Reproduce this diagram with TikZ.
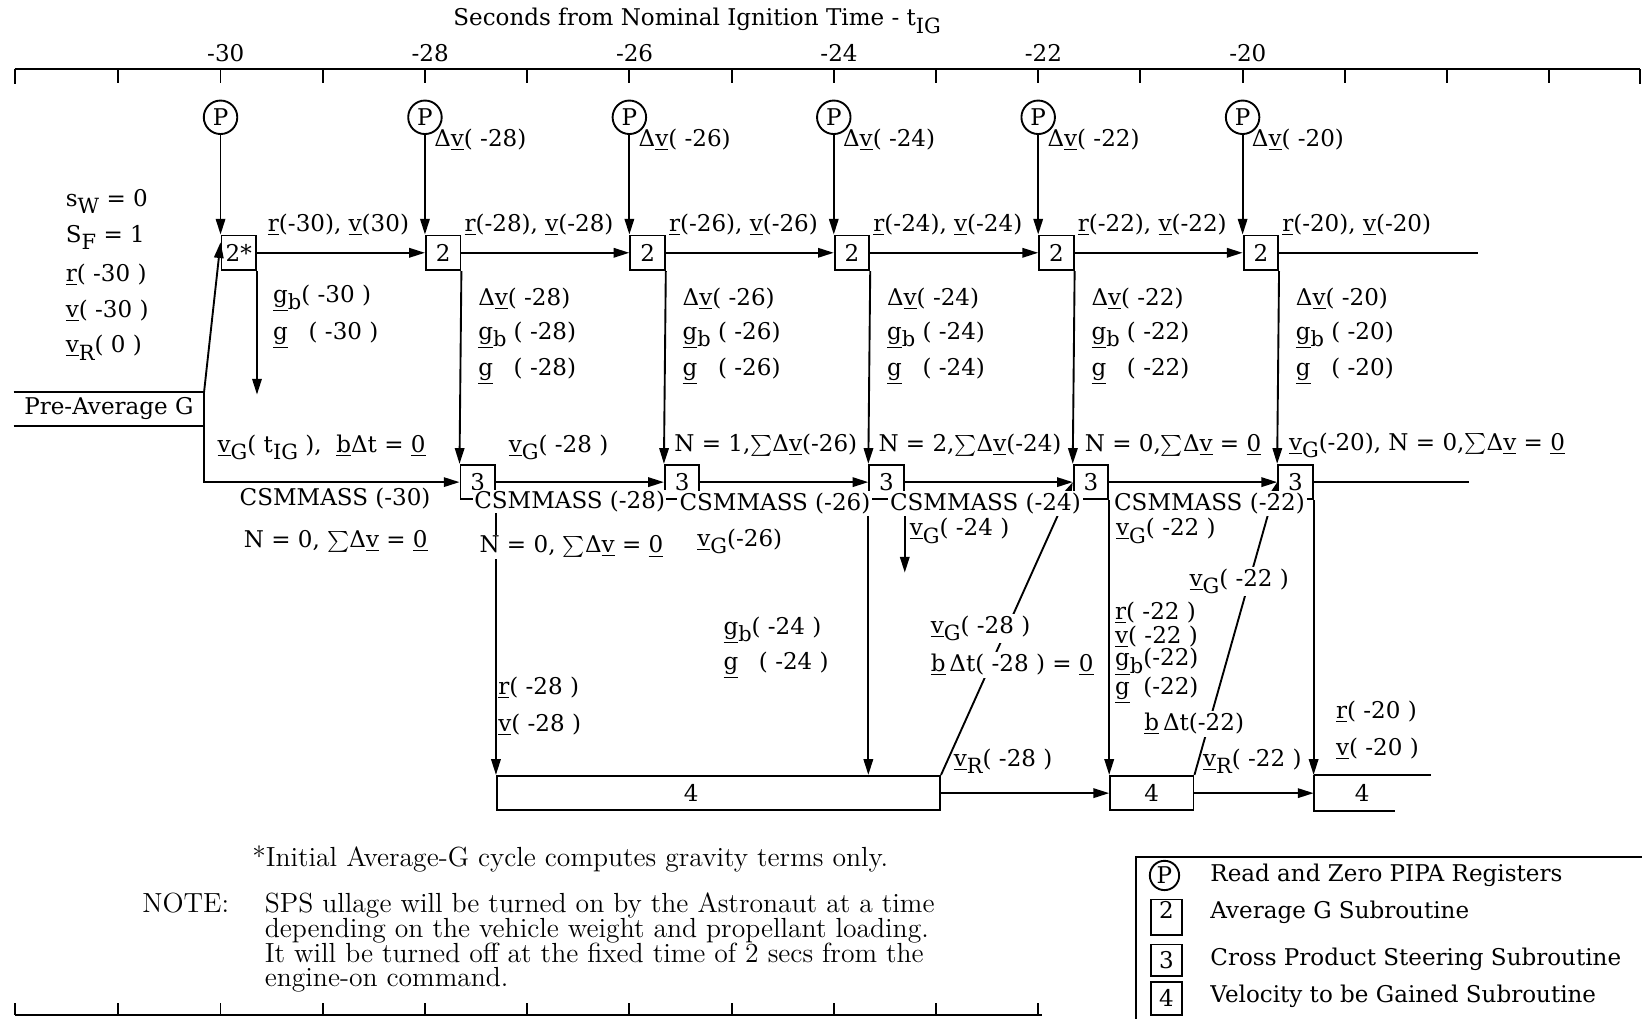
\documentclass[tikz,border=0pt]{standalone}
\usepackage{fontspec}
\setmainfont{DejaVu Serif}
\newfontfamily\notefont{Latin Modern Roman}
\usetikzlibrary{arrows.meta}
\newcommand\vecu[1]{\underline{#1}}
\newcommand\lowsub[1]{\raisebox{-0.6ex}{\fontsize{10}{10}\selectfont #1}}
\newcommand\notesize{\notefont\fontsize{13.2}{11.75}\selectfont\lineskiplimit=-6pt\relax}

\begin{document}
\begin{tikzpicture}[x=0.5pt,y=-0.5pt,line width=0.9pt,
    font=\fontsize{11}{13}\selectfont,
    arr/.style={-{Triangle[length=7.5pt,width=4.5pt]}},
    pipa/.style={circle,draw,minimum size=16pt,inner sep=0pt},
    subbox/.style={draw,minimum width=16.5pt,minimum height=16.5pt,inner sep=0pt,anchor=north west},
    lbl/.style={anchor=west,inner sep=1pt},
    tight/.style={anchor=west,inner sep=0pt},
    cut/.style={lbl,fill=white},
    notes/.style={font=\notesize}]
    \useasboundingbox (0,0) rectangle (1568,973);

    % time scale, 1 s = 97.6 units
    \node[lbl] (title) at (430,20) {Seconds from Nominal Ignition Time - t\lowsub{IG}};
    \draw (14,66) -- (1566,66);
    \foreach \x in {14,1566} \draw (\x,66) -- (\x,80);
    \foreach \k in {0,...,14} \draw ({113+97.6*\k},66) -- ({113+97.6*\k},79);
    \foreach \k/\t in {1/-30,3/-28,5/-26,7/-24,9/-22,11/-20}
        \node[inner sep=0pt] (tk\k) at ({118+97.6*\k},51) {\t};

    % PIPA reads and Average G boxes
    \foreach \k/\n/\txt in {1/30/2*,3/28/2,5/26/2,7/24/2,9/22/2,11/20/2} {
        \node[pipa] (p\n) at ({113+97.6*\k},112) {P};
        \node[subbox] (a\n) at ({113+97.6*\k},224) {\txt};
    }
    % steering boxes
    \foreach \k/\n in {3/28,5/26,7/24,9/22,11/20}
        \node[subbox] (s\n) at ({146+97.6*\k},443) {3};

    \node[minimum width=90pt,minimum height=15.5pt,inner sep=0pt] (pre) at (104,390.5) {Pre-Average G};

    % velocity to be gained boxes
    \coordinate (row4) at (0,740);
    \node[draw,anchor=north west,minimum width=211.6pt,minimum height=16.5pt,inner sep=0pt] (vga) at (s28.south east |- row4) {};
    \node[draw,anchor=north west,minimum width=39.8pt,minimum height=16.5pt,inner sep=0pt] (vgb) at (s22.south east |- row4) {4};
    \node[anchor=north west,minimum width=45.4pt,minimum height=16.5pt,inner sep=0pt] (vgc) at (s20.south east |- row4) {4};
    \node (vga4) at (660,757) {4};
    \draw (vgc.north west) -- ++(112.4,0) (vgc.north west) -- (vgc.south west) -- ++(77.4,0);

    % connectors
    \foreach \n in {30,28,26,24,22,20} \draw[arr] (p\n) -- (a\n.north west);
    \foreach \i/\j in {30/28,28/26,26/24,24/22,22/20} \draw[arr] (a\i) -- (a\j);
    \foreach \n in {28,26,24,22,20} \draw[arr] (a\n.south east) -- (s\n.north west);
    \foreach \i/\j in {28/26,26/24,24/22,22/20} \draw[arr] (s\i) -- (s\j);
    \draw (a20.east) -- ++(190,0);
    \draw (s20.east) -- ++(148,0);

    \draw (pre.north west) -- (pre.north east) (pre.south west) -- (pre.south east);
    \draw[arr] (pre.north east) |- (s28.west);
    \draw[arr] (pre.north east) -- ([yshift=5pt]a30.west);
    \draw[arr] (a30.south east) -- ++(0,118);
    \draw[arr] (s24.south east) -- ++(0,69);

    \draw[arr] (s28.south east) -- (vga.north west);
    \draw[arr] (s24.south west) -- (s24.south west |- vga.north);
    \draw[arr] (s22.south east) -- (vgb.north west);
    \draw[arr] (s20.south east) -- (vgc.north west);
    \draw[arr] (vga) -- (vgb);
    \draw[arr] (vgb.east) -- (vgc.west);
    \draw[arr] (vga.north east) -- (s22.west);
    \draw[arr] (vgb.north east) -- (s20.west);

    % initial values
    \node[lbl] (sw) at (60,192) {s\lowsub{W} = 0};
    \node[lbl] (sf) at (60,227) {S\lowsub{F} = 1};
    \node[lbl] (r30) at (60,262) {\vecu{r}( -30 )};
    \node[lbl] (v30) at (60,297) {\vecu{v}( -30 )};
    \node[lbl] (vr0) at (60,332) {\vecu{v}\lowsub{R}( 0 )};

    % labels along the Average G row
    \node[lbl] (rv30) at (253,215) {\vecu{r}(-30), \vecu{v}(30)};
    \node[lbl] (gb30) at (258,285) {\vecu{g}\lowsub{b}( -30 )};
    \node[lbl] (g30) at (258,320) {\vecu{g}\phantom{\lowsub{b}} ( -30 )};
    \foreach \k/\n in {3/28,5/26,7/24,9/22,11/20} {
        \node[lbl] (dv\n) at ({119+97.6*\k},134) {Δ\vecu{v}( -\n )};
        \node[lbl] (rv\n) at ({148+97.6*\k},215) {\vecu{r}(-\n), \vecu{v}(-\n)};
        \node[lbl] (dvb\n) at ({161+97.6*\k},285) {Δ\vecu{v}( -\n )};
        \node[lbl] (gb\n) at ({161+97.6*\k},320) {\vecu{g}\lowsub{b} ( -\n )};
        \node[lbl] (g\n) at ({161+97.6*\k},355) {\vecu{g}\phantom{\lowsub{b}} ( -\n )};
    }

    % labels along the steering row
    \node[lbl] (vgig) at (205,427) {\vecu{v}\lowsub{G}( t\lowsub{IG} ), \ \vecu{b}Δt = \vecu{0}};
    \node[lbl] (vg28) at (483,427) {\vecu{v}\lowsub{G}( -28 )};
    \node[lbl] (n26) at (641,425) {N = 1,$\sum$Δ\vecu{v}(-26)};
    \node[lbl] (n24) at (836,425) {N = 2,$\sum$Δ\vecu{v}(-24)};
    \node[lbl] (n22) at (1033,425) {N = 0,$\sum$Δ\vecu{v} = \vecu{0}};
    \node[lbl] (n20) at (1228,425) {\vecu{v}\lowsub{G}(-20), N = 0,$\sum$Δ\vecu{v} = \vecu{0}};

    \node[tight] (cm30) at (228,476) {CSMMASS (-30)};
    \node[tight] (n30) at (232,517) {N = 0, $\sum$Δ\vecu{v} = \vecu{0}};
    \node[cut,inner sep=0.5pt] (cm28) at (451,479) {CSMMASS (-28)};
    \node[cut,inner sep=0.5pt] (n28) at (456,522) {N = 0, $\sum$Δ\vecu{v} = \vecu{0}};
    \node[cut] (cm26) at (646,481) {CSMMASS (-26)};
    \node[lbl] (vg26) at (663,517) {\vecu{v}\lowsub{G}(-26)};
    \node[cut] (cm24) at (847,481) {CSMMASS (-24)};
    \node[lbl] (vg24) at (866,507) {\vecu{v}\lowsub{G}( -24 )};
    \node[cut] (cm22) at (1061,481) {CSMMASS (-22)};
    \node[lbl] (vg22) at (1063,507) {\vecu{v}\lowsub{G}( -22 )};

    % labels above the velocity to be gained row
    \node[lbl] (gb24) at (688,602) {\vecu{g}\lowsub{b}( -24 )};
    \node[lbl] (g24) at (688,635) {\vecu{g}\phantom{\lowsub{b}} ( -24 )};
    \node[lbl] (r28) at (473,657) {\vecu{r}( -28 )};
    \node[lbl] (v28) at (473,692) {\vecu{v}( -28 )};
    \node[cut] (vg28b) at (886,600) {\vecu{v}\lowsub{G}( -28 )};
    \node[cut] (bdt28) at (886,635) {\vecu{b}\,Δt( -28 ) = \vecu{0}};
    \node[lbl] (vr28) at (908,727) {\vecu{v}\lowsub{R}( -28 )};
    \node[cut] (vg22b) at (1133,555) {\vecu{v}\lowsub{G}( -22 )};
    \node[tight] (r22) at (1064,585) {\vecu{r}( -22 )};
    \node[tight] (v22) at (1064,608) {\vecu{v}( -22 )};
    \node[tight] (gb22) at (1064,632) {\vecu{g}\smash{\lowsub{b}}(-22)};
    \node[tight] (g22) at (1064,659) {\vecu{g}\phantom{\lowsub{b}}(-22)};
    \node[cut] (bdt22) at (1090,691) {\vecu{b}\,Δt(-22)};
    \node[lbl] (vr22) at (1146,727) {\vecu{v}\lowsub{R}( -22 )};
    \node[lbl] (r20) at (1273,680) {\vecu{r}( -20 )};
    \node[lbl] (v20) at (1273,715) {\vecu{v}( -20 )};

    % notes
    \node[lbl,notes] (star) at (238,820) {*Initial Average-G cycle computes gravity terms only.};
    \node[lbl,notes] (note) at (133,862) {NOTE:};
    \node[anchor=north west,align=left,inner sep=0pt,notes] (notetxt) at (252,852)
        {SPS ullage will be turned on by the Astronaut at a time\\
         depending on the vehicle weight and propellant loading.\\
         It will be turned off at the fixed time of 2 secs from the\\
         engine-on command.};
    \draw (14,969) -- (995,969);
    \foreach \x in {14,113,210.6,308.2,405.8,503.4,601,698.6,796.2,893.8,991.4} \draw (\x,969) -- (\x,958);

    % legend
    \draw (1085,973) -- (1085,818) -- (1568,818);
    \node[pipa,minimum size=14pt] (lp) at (1112,836) {P};
    \node[draw,anchor=north west,minimum width=15pt,minimum height=17pt,inner sep=0pt] (l2) at (1098,858) {};
    \node[anchor=north,inner sep=1pt] (l2t) at (l2.north) {2};
    \node[draw,anchor=north west,minimum width=15pt,minimum height=15pt,inner sep=0pt] (l3) at (1098,901) {3};
    \node[draw,anchor=north west,minimum width=15pt,minimum height=15.5pt,inner sep=0pt] (l4) at (1098,937) {4};
    \node[lbl] (lpt) at (1153,836) {Read and Zero PIPA Registers};
    \node[lbl] (l2d) at (1153,871) {Average G Subroutine};
    \node[lbl] (l3d) at (1153,916) {Cross Product Steering Subroutine};
    \node[lbl] (l4d) at (1153,951) {Velocity to be Gained Subroutine};
\end{tikzpicture}
\end{document}
